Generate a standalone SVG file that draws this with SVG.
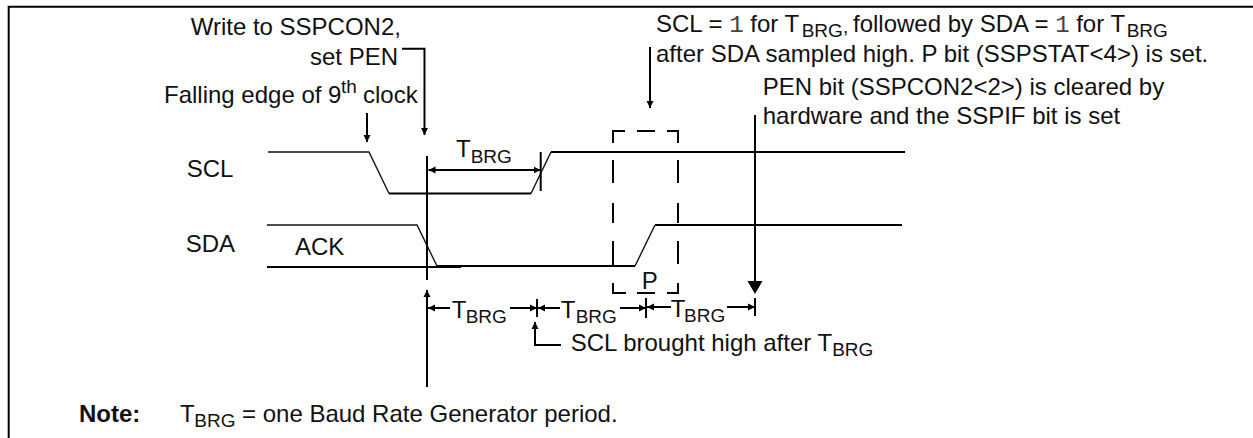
<svg xmlns="http://www.w3.org/2000/svg" width="1253" height="438" viewBox="0 0 1253 438">
<defs>
<marker id="a" markerUnits="userSpaceOnUse" markerWidth="8" markerHeight="8" refX="7" refY="4" orient="auto-start-reverse"><path d="M0 0.5L7 4L0 7.5Z" fill="#000"/></marker>
</defs>
<style>
text{font-family:"Liberation Sans",Arial,sans-serif;font-size:24px;fill:#111}
.s{font-size:19px}
.m{font-family:"Liberation Mono","DejaVu Sans Mono",monospace;fill:#444}
.l{fill:none;stroke:#000;stroke-width:2}
.t{fill:none;stroke:#111;stroke-width:1.4}
.ar{marker-end:url(#a)}
</style>
<g id="frame"><path class="l" d="M8.7 438V6.7H1253"/></g>
<g id="connectors">
<path class="t" d="M268 152H369L389 193.5M531 193.5L551 152M267 225H417L437 266M635 266L655 225"/>
<path class="l" d="M389 193.5H531M551 152H905M267 267H461M437 266H635M655 225H902"/>
<path class="l" d="M427 156V280"/>
<path class="l ar" d="M427 387V290"/>
<path class="l" d="M540.7 152V191"/>
<path class="l ar" d="M402 48.7H424.5V135"/>
<path class="l ar" d="M367 113V142"/>
<path class="l ar" d="M650 47V108"/>
<path class="l" d="M755 115V282M755 298V316M537 299V317M646 298V318"/>
<path d="M747.5 281H762.5L755 294Z" fill="#000"/>
<path class="l" d="M613 143V131H625M637 131H655M667 131H678V143M613 160V183M613 203V223M613 241V265M613 283V293H626M637 293H655M667 293H678V283M678 160V183M678 203V223M678 241V264"/>
<path class="l ar" d="M450 308H428"/>
<path class="l ar" d="M510 308H537"/>
<path class="l ar" d="M560 308H538"/>
<path class="l ar" d="M620 308H646"/>
<path class="l ar" d="M671 307H647"/>
<path class="l ar" d="M727 307H755"/>
<path class="l ar" d="M484 170H428.5"/>
<path class="l ar" d="M484 170H540.5"/>
<path class="l ar" d="M561 345H535V322"/>
</g>
<g id="labels">
<text x="190.7" y="35">Write to SSPCON2,</text>
<text x="398" y="65" text-anchor="end">set PEN</text>
<text x="164" y="103">Falling edge of 9<tspan class="s" x="341" dy="-10">th</tspan><tspan x="363" dy="10">clock</tspan></text>
<text x="186.7" y="177">SCL</text>
<text x="456" y="157">T</text><text class="s" x="470.7" y="163">BRG</text>
<text x="185.7" y="252">SDA</text>
<text x="295" y="255">ACK</text>
<text x="641.7" y="289">P</text>
<text x="451.7" y="318">T</text><text class="s" x="465.7" y="323">BRG</text>
<text x="560.7" y="318">T</text><text class="s" x="575.7" y="323">BRG</text>
<text x="670.7" y="317">T</text><text class="s" x="684" y="322">BRG</text>
<text x="570.7" y="351">SCL brought high after T<tspan class="s" dy="5">BRG</tspan></text>
<text x="656" y="32">SCL = <tspan class="m">1</tspan> for T</text><text class="s" x="801.7" y="37">BRG</text><text class="s" x="843" y="33">,</text>
<text x="853" y="32">followed by SDA = <tspan class="m">1</tspan> for T</text><text class="s" x="1126.7" y="37">BRG</text>
<text x="656" y="62">after SDA sampled high. P bit (SSPSTAT&lt;4&gt;) is set.</text>
<text x="762.7" y="95">PEN bit (SSPCON2&lt;2&gt;) is cleared by</text>
<text x="762.7" y="124">hardware and the SSPIF bit is set</text>
<text x="79" y="422" font-weight="bold">Note:</text>
<text x="180" y="422">T</text><text class="s" x="194.3" y="427">BRG</text>
<text x="242" y="422">= one Baud Rate Generator period.</text>
</g>
</svg>
